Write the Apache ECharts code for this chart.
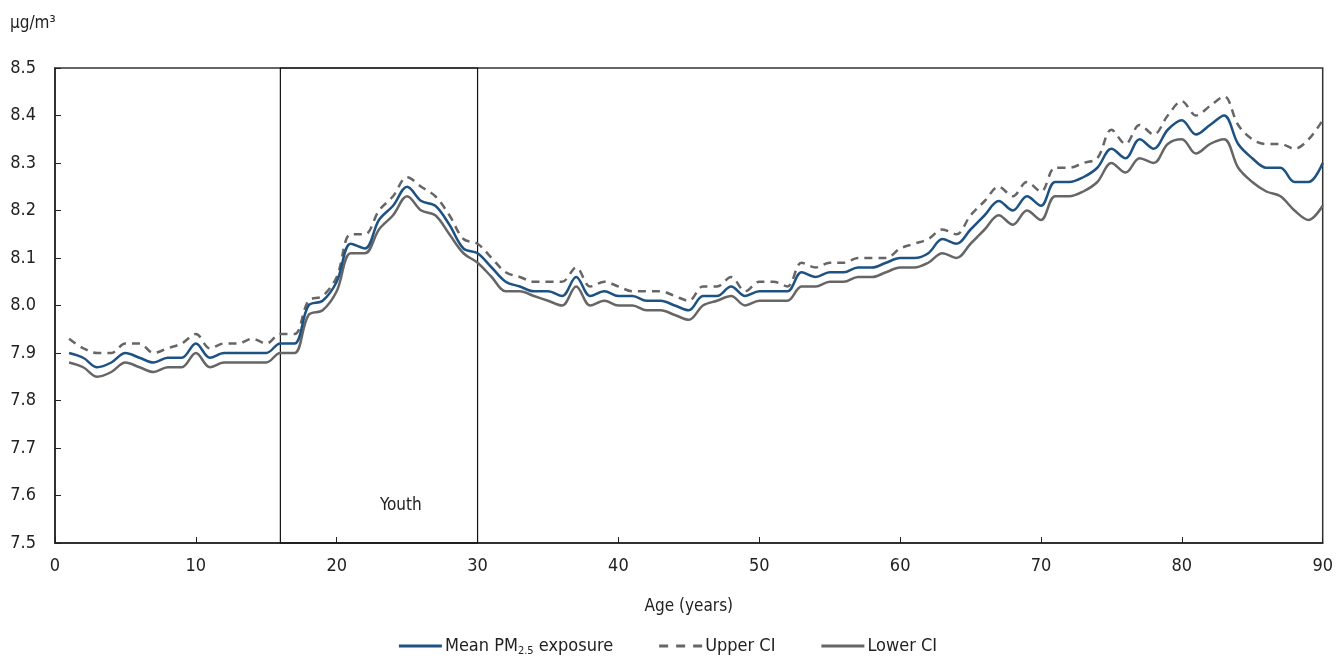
<!DOCTYPE html>
<html><head><meta charset="utf-8">
<script src="https://cdn.jsdelivr.net/npm/echarts@6/dist/echarts.min.js"></script>
<style>html,body{margin:0;padding:0;background:#fff}#c{width:1336px;height:658px}</style>
</head><body><div id="c"></div>
<script>
const ages = Array.from({length: 90}, (_, i) => i + 1);
const meanPM = [7.90,7.89,7.87,7.88,7.90,7.89,7.88,7.89,7.89,7.92,7.89,7.90,7.90,7.90,7.90,7.92,7.92,8.00,8.01,8.05,
8.13,8.12,8.18,8.21,8.25,8.22,8.21,8.17,8.12,8.11,8.08,8.05,8.04,8.03,8.03,8.02,8.06,8.02,8.03,8.02,
8.02,8.01,8.01,8.00,7.99,8.02,8.02,8.04,8.02,8.03,8.03,8.03,8.07,8.06,8.07,8.07,8.08,8.08,8.09,8.10,
8.10,8.11,8.14,8.13,8.16,8.19,8.22,8.20,8.23,8.21,8.26,8.26,8.27,8.29,8.33,8.31,8.35,8.33,8.37,8.39,
8.36,8.38,8.40,8.34,8.31,8.29,8.29,8.26,8.26,8.30];
const upperCI = [7.93,7.91,7.90,7.90,7.92,7.92,7.90,7.91,7.92,7.94,7.91,7.92,7.92,7.93,7.92,7.94,7.94,8.01,8.02,8.06,
8.15,8.15,8.20,8.23,8.27,8.25,8.23,8.19,8.14,8.13,8.10,8.07,8.06,8.05,8.05,8.05,8.08,8.04,8.05,8.04,
8.03,8.03,8.03,8.02,8.01,8.04,8.04,8.06,8.03,8.05,8.05,8.04,8.09,8.08,8.09,8.09,8.10,8.10,8.10,8.12,
8.13,8.14,8.16,8.15,8.19,8.22,8.25,8.23,8.26,8.24,8.29,8.29,8.30,8.31,8.37,8.34,8.38,8.36,8.40,8.43,
8.40,8.42,8.44,8.38,8.35,8.34,8.34,8.33,8.35,8.39];
const lowerCI = [7.88,7.87,7.85,7.86,7.88,7.87,7.86,7.87,7.87,7.90,7.87,7.88,7.88,7.88,7.88,7.90,7.90,7.98,7.99,8.03,
8.11,8.11,8.16,8.19,8.23,8.20,8.19,8.15,8.11,8.09,8.06,8.03,8.03,8.02,8.01,8.00,8.04,8.00,8.01,8.00,
8.00,7.99,7.99,7.98,7.97,8.00,8.01,8.02,8.00,8.01,8.01,8.01,8.04,8.04,8.05,8.05,8.06,8.06,8.07,8.08,
8.08,8.09,8.11,8.10,8.13,8.16,8.19,8.17,8.20,8.18,8.23,8.23,8.24,8.26,8.30,8.28,8.31,8.30,8.34,8.35,
8.32,8.34,8.35,8.29,8.26,8.24,8.23,8.20,8.18,8.21];
const youthRange = [16, 30];
const seriesNames = ['Mean PM2.5 exposure', 'Upper CI', 'Lower CI'];

const FONT = "'Liberation Sans Narrow','DejaVu Sans Condensed','Roboto',sans-serif";
const pairs = arr => ages.map((a, i) => [a, arr[i]]);
const SOLID = 'path://M0,0 L43,0 L43,3 L0,3 Z';
const DASHED = 'path://M0,0 L9,0 L9,3 L0,3 Z M17,0 L26,0 L26,3 L17,3 Z M34,0 L43,0 L43,3 L34,3 Z';
const chart = echarts.init(document.getElementById('c'));
chart.setOption({
  animation: false,
  textStyle: {fontFamily: FONT, color: '#222'},
  grid: {left: 55, right: 13, top: 68, bottom: 115, show: true, borderColor: '#333', borderWidth: 1.5, backgroundColor: 'transparent'},
  graphic: [{type: 'text', left: 10, top: 15, style: {text: 'μg/m³', font: '17px ' + FONT, fill: '#222'}}],
  xAxis: {
    type: 'value', min: 0, max: 90, interval: 10,
    name: 'Age (years)', nameLocation: 'middle', nameGap: 55,
    nameTextStyle: {fontSize: 17, color: '#222', fontFamily: FONT},
    axisLine: {lineStyle: {color: '#222', width: 1.5}},
    axisTick: {inside: true, length: 6, lineStyle: {color: '#222'}},
    axisLabel: {fontSize: 18, color: '#222', margin: 14, fontFamily: FONT},
    splitLine: {show: false}
  },
  yAxis: {
    type: 'value', min: 7.5, max: 8.5, interval: 0.1,
    axisLine: {show: true, lineStyle: {color: '#222', width: 1.5}},
    axisTick: {show: true, inside: true, length: 6, lineStyle: {color: '#222'}},
    axisLabel: {fontSize: 18, color: '#222', margin: 19, fontFamily: FONT, formatter: v => v.toFixed(1)},
    splitLine: {show: false}
  },
  legend: {
    top: 632, left: 'center', itemWidth: 43, itemHeight: 10, itemGap: 46,
    textStyle: {fontSize: 18, color: '#222', fontFamily: FONT, padding: [0, 0, 0, -2],
      rich: {a: {fontSize: 18, fontFamily: FONT, color: '#222'}, s: {fontSize: 11, fontFamily: FONT, color: '#222', verticalAlign: 'bottom', padding: [10, 0, 0, 0]}}},
    formatter: n => n === seriesNames[0] ? '{a|Mean PM}{s|2.5}{a| exposure}' : '{a|' + n + '}',
    data: [
      {name: seriesNames[0], icon: SOLID, itemStyle: {color: '#1d5283'}},
      {name: seriesNames[1], icon: DASHED, itemStyle: {color: '#666'}},
      {name: seriesNames[2], icon: SOLID, itemStyle: {color: '#666'}}
    ]
  },
  series: [
    {name: seriesNames[1], type: 'line', data: pairs(upperCI), symbol: 'none', smooth: 0.35, z: 2,
      itemStyle: {color: '#666'}, lineStyle: {color: '#666', width: 2.5, type: [8, 6]}},
    {name: seriesNames[2], type: 'line', data: pairs(lowerCI), symbol: 'none', smooth: 0.35, z: 2,
      itemStyle: {color: '#666'}, lineStyle: {color: '#666', width: 2.5}},
    {name: seriesNames[0], type: 'line', data: pairs(meanPM), symbol: 'none', smooth: 0.35, z: 3,
      itemStyle: {color: '#1d5283'}, lineStyle: {color: '#1d5283', width: 2.5},
      markArea: {silent: true, itemStyle: {color: 'rgba(0,0,0,0)', borderColor: '#111', borderWidth: 1.2},
        label: {show: true, position: ['61%', '92%'], align: 'center', verticalAlign: 'middle', fontSize: 17, color: '#222', fontFamily: FONT},
        data: [[{name: 'Youth', xAxis: youthRange[0], yAxis: 7.5}, {xAxis: youthRange[1], yAxis: 8.5}]]}}
  ]
});
</script></body></html>
